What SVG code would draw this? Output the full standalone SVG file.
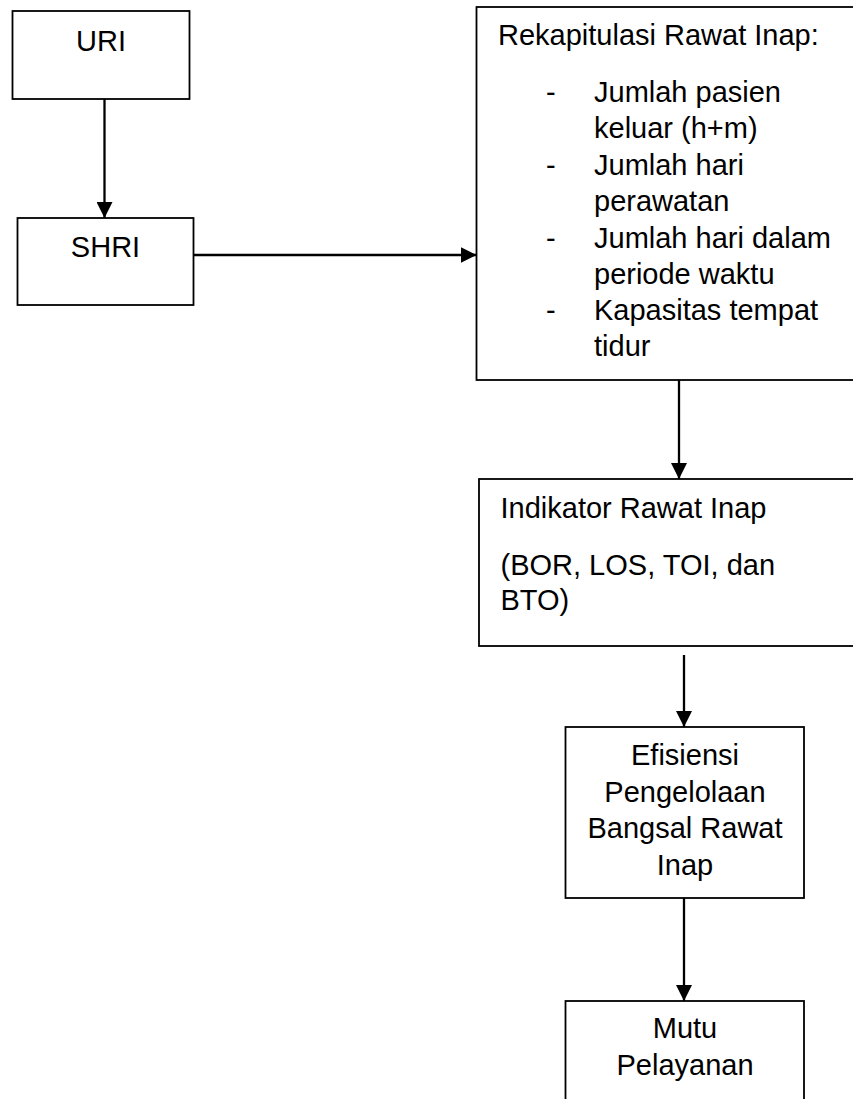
<svg xmlns="http://www.w3.org/2000/svg" width="853" height="1099" viewBox="0 0 853 1099">
<style>
.box{fill:#fff;stroke:#000;stroke-width:1.8}
.t{font-family:"Liberation Sans",Arial,sans-serif;font-size:29px;fill:#000}
.c{text-anchor:middle}
.con{stroke:#000;stroke-width:2.3;fill:none}
</style>
<defs>
<marker id="ah" markerWidth="16" markerHeight="16" refX="16" refY="8" orient="auto" markerUnits="userSpaceOnUse">
<path d="M0,0 L16,8 L0,16 Z" fill="#000"/>
</marker>
</defs>
<rect width="853" height="1099" fill="#fff"/>
<g id="connectors">
<line class="con" x1="104.5" y1="99" x2="104.5" y2="218" marker-end="url(#ah)"/>
<line class="con" x1="194" y1="255" x2="476.5" y2="255" marker-end="url(#ah)"/>
<line class="con" x1="679" y1="380" x2="679" y2="479" marker-end="url(#ah)"/>
<line class="con" x1="684" y1="655" x2="684" y2="727" marker-end="url(#ah)"/>
<line class="con" x1="684" y1="898" x2="684" y2="1001" marker-end="url(#ah)"/>
</g>
<g id="uri">
<rect class="box" x="12.5" y="11" width="177" height="88"/>
<text class="t c" x="101" y="50.5">URI</text>
</g>
<g id="shri">
<rect class="box" x="17.5" y="218" width="176" height="87"/>
<text class="t c" x="105.5" y="257">SHRI</text>
</g>
<g id="rekap">
<rect class="box" x="476.5" y="7" width="390" height="373"/>
<text class="t" x="498" y="45">Rekapitulasi Rawat Inap:</text>
<text class="t" x="546" y="101.5">-</text>
<text class="t" x="594" y="101.5">Jumlah pasien</text>
<text class="t" x="594" y="138">keluar (h+m)</text>
<text class="t" x="546" y="174.5">-</text>
<text class="t" x="594" y="174.5">Jumlah hari</text>
<text class="t" x="594" y="211">perawatan</text>
<text class="t" x="546" y="247.5">-</text>
<text class="t" x="594" y="247.5">Jumlah hari dalam</text>
<text class="t" x="594" y="283.5">periode waktu</text>
<text class="t" x="546" y="320">-</text>
<text class="t" x="594" y="320">Kapasitas tempat</text>
<text class="t" x="594" y="356">tidur</text>
</g>
<g id="indikator">
<rect class="box" x="479" y="479" width="390" height="167"/>
<text class="t" x="500.5" y="518">Indikator Rawat Inap</text>
<text class="t" x="500.5" y="575">(BOR, LOS, TOI, dan</text>
<text class="t" x="500.5" y="610">BTO)</text>
</g>
<g id="efisiensi">
<rect class="box" x="565.5" y="727" width="238.5" height="171"/>
<text class="t c" x="685" y="765">Efisiensi</text>
<text class="t c" x="685" y="801.5">Pengelolaan</text>
<text class="t c" x="685" y="838">Bangsal Rawat</text>
<text class="t c" x="685" y="874.5">Inap</text>
</g>
<g id="mutu">
<rect class="box" x="565.5" y="1001" width="238.5" height="120"/>
<text class="t c" x="685" y="1038">Mutu</text>
<text class="t c" x="685" y="1075">Pelayanan</text>
</g>
</svg>
